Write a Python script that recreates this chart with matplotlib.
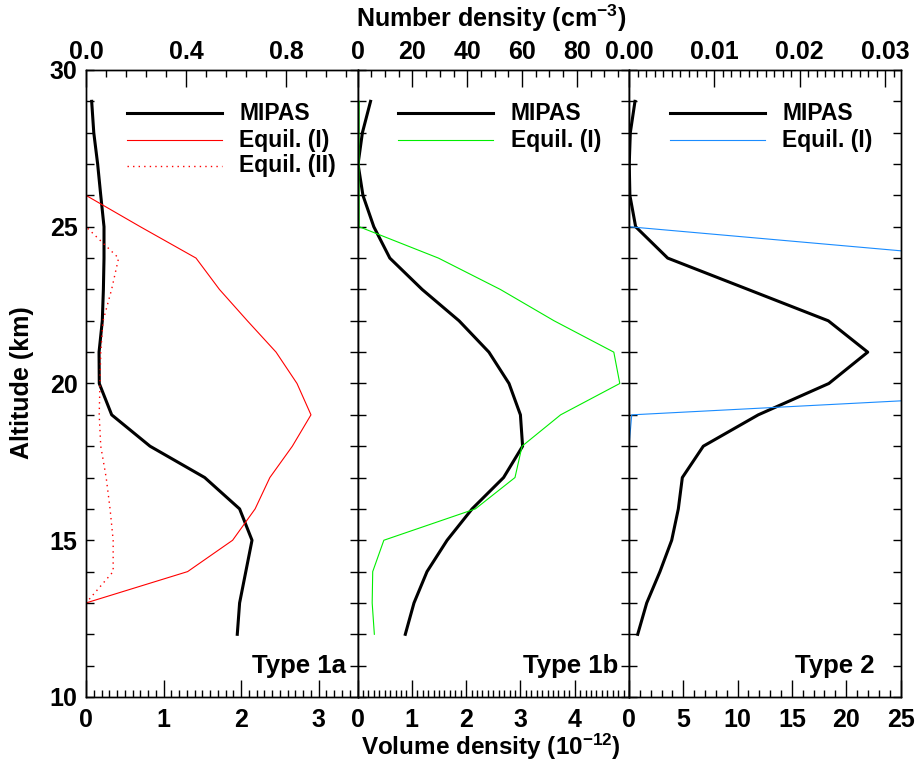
"""Three-panel altitude profiles: MIPAS vs. equilibrium volume densities."""
import matplotlib
matplotlib.use("Agg")
import matplotlib.pyplot as plt
from matplotlib.ticker import MultipleLocator, FixedLocator, FormatStrFormatter

plt.rcParams["font.family"] = ["Liberation Sans", "DejaVu Sans"]
plt.rcParams["font.weight"] = "bold"
plt.rcParams["mathtext.fontset"] = "custom"
plt.rcParams["mathtext.rm"] = "Liberation Sans:bold"
plt.rcParams["mathtext.bf"] = "Liberation Sans:bold"
plt.rcParams["mathtext.default"] = "bf"

# altitude grid (km)
altitude = [29, 28, 27, 26, 25, 24, 23, 22, 21, 20, 19, 18, 17, 16, 15, 14, 13, 12]

# Type 1a (volume density, 1e-12)
mipas_1a = [0.073, 0.10, 0.15, 0.19, 0.232, 0.232, 0.224, 0.21, 0.168, 0.171,
            0.331, 0.825, 1.53, 1.98, 2.14, 2.06, 1.98, 1.95]
equil1_1a = [0.0, 0.0, 0.0, 0.0, 0.70, 1.418, 1.72, 2.08, 2.45, 2.72,
             2.90, 2.66, 2.37, 2.18, 1.89, 1.31, 0.0, 0.0]
equil2_1a = [0.0, 0.0, 0.0, 0.0, 0.0, 0.42, 0.33, 0.22, 0.19, 0.18,
             0.17, 0.19, 0.26, 0.31, 0.35, 0.35, 0.0, 0.0]

# Type 1b
mipas_1b = [0.24, 0.09, 0.01, 0.10, 0.30, 0.595, 1.19, 1.87, 2.42, 2.79,
            3.00, 3.04, 2.69, 2.11, 1.65, 1.28, 1.04, 0.88]
equil1_1b = [0.03, 0.03, 0.03, 0.03, 0.03, 1.49, 2.63, 3.62, 4.72, 4.83,
             3.74, 3.03, 2.90, 2.17, 0.485, 0.28, 0.27, 0.31]

# Type 2
mipas_2 = [0.55, 0.12, 0.02, 0.08, 0.61, 3.56, 10.96, 18.35, 21.98, 18.4,
           11.9, 6.84, 4.91, 4.54, 3.93, 2.85, 1.63, 0.80]
equil1_2 = [0.0, 0.0, 0.0, 0.0, 0.0, 32.6, 48.0, 66.0, 78.0, 55.8,
            0.25, 0.0, 0.0, 0.0, 0.0, 0.0, 0.0, 0.0]

panel_names = ["Type 1a", "Type 1b", "Type 2"]
volume_max = [3.5, 5.0, 25.0]
number_max = [1.086, 99.0, 0.0318]

bottom_major = [[0, 1, 2, 3], [0, 1, 2, 3, 4], [0, 5, 10, 15, 20, 25]]
bottom_minor = [0.1, 0.1, 1.0]
top_major = [[0.0, 0.4, 0.8], [0, 20, 40, 60, 80], [0.0, 0.01, 0.02, 0.03]]
top_minor = [0.08, 5.0, 0.001]
top_fmt = ["%.1f", "%d", "%.2f"]

RED = "#ff0000"
GREEN = "#00ee00"
BLUE = "#1a8cff"

series = [
    [("MIPAS", mipas_1a, "black", 2.2, "-"),
     ("Equil. (I)", equil1_1a, RED, 0.8, "-"),
     ("Equil. (II)", equil2_1a, RED, 1.0, (0, (1, 3)))],
    [("MIPAS", mipas_1b, "black", 2.2, "-"),
     ("Equil. (I)", equil1_1b, GREEN, 0.8, "-")],
    [("MIPAS", mipas_2, "black", 2.2, "-"),
     ("Equil. (I)", equil1_2, BLUE, 0.8, "-")],
]

fig = plt.figure(figsize=(9.16, 7.64), dpi=100)
left, bottom, width, height = 0.0939, 0.0877, 0.2964, 0.8207
TICK_FS = 18
LEG_FS = 16.5
LABEL_FS = 18

for i in range(3):
    ax = fig.add_axes([left + i * width, bottom, width, height])
    for _, vals, color, lw, ls in series[i]:
        ax.plot(vals, altitude, color=color, lw=lw, linestyle=ls)
    ax.set_xlim(0, volume_max[i])
    ax.set_ylim(10, 30)

    top = ax.twiny()
    top.set_xlim(0, number_max[i])

    ax.xaxis.set_major_locator(FixedLocator(bottom_major[i]))
    ax.xaxis.set_minor_locator(MultipleLocator(bottom_minor[i]))
    ax.xaxis.set_major_formatter(FormatStrFormatter("%d"))
    ax.yaxis.set_major_locator(MultipleLocator(5))
    ax.yaxis.set_minor_locator(MultipleLocator(1))
    ax.tick_params(axis="x", which="major", direction="in", length=12, width=1,
                   labelsize=TICK_FS, pad=8)
    ax.tick_params(axis="x", which="minor", direction="in", length=5, width=1)
    ax.tick_params(axis="y", which="both", direction="in", length=6, width=1,
                   left=True, right=True, labelsize=TICK_FS, pad=6,
                   labelleft=(i == 0))

    top.xaxis.set_major_locator(FixedLocator(top_major[i]))
    top.xaxis.set_minor_locator(MultipleLocator(top_minor[i]))
    top.xaxis.set_major_formatter(FormatStrFormatter(top_fmt[i]))
    top.tick_params(axis="x", which="major", direction="in", length=12, width=1,
                    labelsize=TICK_FS, pad=4)
    top.tick_params(axis="x", which="minor", direction="in", length=5, width=1)

    for a in (ax, top):
        for sp in a.spines.values():
            sp.set_linewidth(1.0)

    # legend drawn by hand
    rows = [0.931, 0.888, 0.847]
    for (label, _, color, lw, ls), y in zip(series[i], rows):
        ax.plot([0.15, 0.50], [y, y], transform=ax.transAxes, color=color,
                lw=lw, linestyle=ls, clip_on=False)
        ax.text(0.565, y, label, transform=ax.transAxes, fontsize=LEG_FS,
                fontweight="bold", va="center", ha="left")

    ax.text(0.61, 0.049, panel_names[i], transform=ax.transAxes,
            fontsize=18.5, fontweight="bold", va="center", ha="left")

fig.text(22 / 916, 1 - 383 / 764, "Altitude (km)", rotation=90,
         fontsize=LABEL_FS, fontweight="bold", ha="center", va="center")
fig.text(491 / 916, 1 - 18 / 764, r"Number density (cm$^{-3}$)",
         fontsize=LABEL_FS, fontweight="bold", ha="center", va="center")
fig.text(491 / 916, 2 / 764, r"Volume density (10$^{-12}$)",
         fontsize=17.5, fontweight="bold", ha="center", va="bottom")

fig.savefig("out.png", dpi=100)
